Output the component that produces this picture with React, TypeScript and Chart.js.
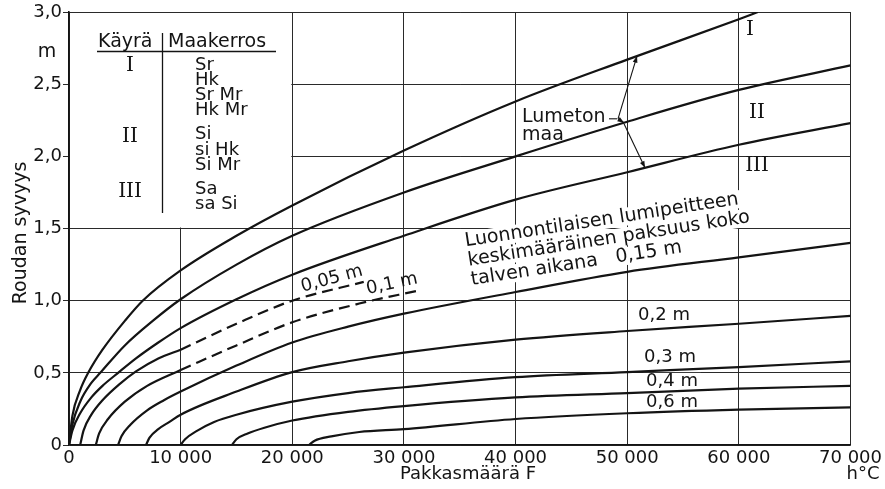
import React, { useEffect, useRef } from 'react';
import { Chart, registerables } from 'chart.js';
Chart.register(...registerables);

// ---- axes ----
const xTicks = [0, 10000, 20000, 30000, 40000, 50000, 60000, 70000];
const xTickLabels = ['0', '10 000', '20 000', '30 000', '40 000', '50 000', '60 000', '70 000'];
const yTicks = [0, 0.5, 1, 1.5, 2, 2.5, 3];
const yTickLabels = ['0', '0,5', '1,0', '1,5', '2,0', '2,5', '3,0'];

// ---- snow-free ground, curves I, II, III ----
const xI = [0, 300, 1000, 1720, 3000, 5000, 6600, 10000, 15000, 20000, 30000, 40000, 50000, 60000, 61700];
const yI = [0, 0.2, 0.38, 0.5, 0.66, 0.86, 1.0, 1.21, 1.45, 1.66, 2.04, 2.38, 2.67, 2.95, 3.0];
const xII = [0, 300, 1000, 2000, 2800, 5000, 7500, 10000, 15000, 20000, 30000, 40000, 50000, 60000, 70000];
const yII = [0, 0.14, 0.3, 0.43, 0.5, 0.69, 0.86, 1.01, 1.25, 1.45, 1.75, 2.0, 2.24, 2.46, 2.63];
const xIII = [0, 300, 1000, 2000, 3000, 4400, 6000, 8000, 10000, 15000, 20000, 30000, 40000, 50000, 60000, 70000];
const yIII = [0, 0.1, 0.22, 0.33, 0.41, 0.5, 0.6, 0.71, 0.81, 1.01, 1.18, 1.45, 1.7, 1.89, 2.08, 2.23];

// ---- snow cover 0.05 m and 0.1 m (solid start, dashed continuation) ----
const x005 = [1000, 1300, 2000, 3000, 4500, 6000, 8000, 10000];
const y005 = [0, 0.1, 0.21, 0.31, 0.42, 0.51, 0.6, 0.66];
const x005d = [10000, 15000, 20000, 26400];
const y005d = [0.66, 0.84, 1.0, 1.13];
const x01 = [2400, 2700, 3500, 5000, 7000, 10000];
const y01 = [0, 0.08, 0.18, 0.3, 0.41, 0.52];
const x01d = [10000, 15000, 20000, 26000, 31300];
const y01d = [0.52, 0.69, 0.85, 0.98, 1.07];

// ---- snow cover 0.15 ... 0.6 m ----
const x015 = [4400, 4700, 5500, 7000, 8500, 10000, 15000, 20000, 25000, 30000, 40000, 50000, 60000, 70000];
const y015 = [0, 0.06, 0.14, 0.24, 0.31, 0.37, 0.55, 0.71, 0.82, 0.91, 1.06, 1.2, 1.3, 1.4];
const x02 = [6900, 7200, 8000, 9000, 10000, 15000, 20000, 25000, 30000, 40000, 50000, 60000, 70000];
const y02 = [0, 0.05, 0.11, 0.16, 0.21, 0.37, 0.505, 0.58, 0.64, 0.73, 0.79, 0.84, 0.895];
const x03 = [10000, 10400, 11500, 13000, 15000, 20000, 25000, 30000, 40000, 50000, 60000, 70000];
const y03 = [0, 0.04, 0.1, 0.16, 0.21, 0.3, 0.36, 0.4, 0.47, 0.505, 0.54, 0.58];
const x04 = [14600, 15000, 16000, 17500, 20000, 25000, 30000, 40000, 50000, 60000, 70000];
const y04 = [0, 0.04, 0.08, 0.12, 0.17, 0.23, 0.27, 0.33, 0.36, 0.39, 0.41];
const x06 = [21500, 22000, 23500, 26000, 30000, 40000, 50000, 60000, 70000];
const y06 = [0, 0.03, 0.06, 0.09, 0.11, 0.18, 0.22, 0.245, 0.26];

const pts = (xs: number[], ys: number[]) => xs.map((x, i) => ({ x, y: ys[i] }));
function interp(xs: number[], ys: number[], v: number) {
  for (let i = 1; i < xs.length; i++) {
    if (v <= xs[i]) {
      const t = (v - xs[i - 1]) / (xs[i] - xs[i - 1]);
      return ys[i - 1] + t * (ys[i] - ys[i - 1]);
    }
  }
  return ys[ys.length - 1];
}

const SANS = '"DejaVu Sans", sans-serif';
const SERIF = '"DejaVu Serif", serif';
const INK = '#141414';

function curve(data: { x: number; y: number }[], dashed = false) {
  return {
    data,
    borderColor: INK,
    borderWidth: 2.2,
    pointRadius: 0,
    fill: false,
    cubicInterpolationMode: 'monotone' as const,
    borderDash: dashed ? [11, 6] : [],
  };
}

function text(ctx: CanvasRenderingContext2D, s: string, x: number, y: number, size: number, align: CanvasTextAlign = 'left', font = SANS) {
  ctx.font = `${size}px ${font}`;
  ctx.textAlign = align;
  ctx.textBaseline = 'middle';
  ctx.fillStyle = INK;
  ctx.fillText(s, x, y);
}

function arrow(ctx: CanvasRenderingContext2D, x1: number, y1: number, x2: number, y2: number) {
  ctx.beginPath();
  ctx.moveTo(x1, y1);
  ctx.lineTo(x2, y2);
  ctx.stroke();
  const a = Math.atan2(y2 - y1, x2 - x1);
  const L = 7, W = 0.35;
  ctx.beginPath();
  ctx.moveTo(x2, y2);
  ctx.lineTo(x2 - L * Math.cos(a - W), y2 - L * Math.sin(a - W));
  ctx.lineTo(x2 - L * Math.cos(a + W), y2 - L * Math.sin(a + W));
  ctx.closePath();
  ctx.fill();
}

// label anchors: x in pixels, vertical position in axis units
const smallLabels = [
  { s: '0,2 m', x: 664, v: 0.896 },
  { s: '0,3 m', x: 670, v: 0.604 },
  { s: '0,4 m', x: 672, v: 0.444 },
  { s: '0,6 m', x: 672, v: 0.295 },
];
const longLines = ['Luonnontilaisen lumipeitteen', 'keskimääräinen paksuus koko', 'talven aikana   0,15 m'];
const LONG = { x: 465, v: 1.41, ang: -8.8, dy: 19.5, size: 19 };

const decor = {
  id: 'decor',
  beforeDatasetsDraw(chart: any) {
    const { ctx, scales } = chart;
    const x = scales.x, y = scales.y;
    ctx.save();
    ctx.fillStyle = '#fff';
    const l = x.getPixelForValue(0) + 1, r = x.getPixelForValue(20000) - 1;
    const t = y.getPixelForValue(3) + 1, b = y.getPixelForValue(1.5) - 1;
    ctx.fillRect(l, t, r - l, b - t);
    ctx.font = `18px ${SANS}`;
    for (const lb of smallLabels) {
      const w = ctx.measureText(lb.s).width;
      ctx.fillRect(lb.x - w / 2 - 3, y.getPixelForValue(lb.v) - 8, w + 6, 16);
    }
    ctx.translate(LONG.x, y.getPixelForValue(LONG.v));
    ctx.rotate((LONG.ang * Math.PI) / 180);
    ctx.font = `${LONG.size}px ${SANS}`;
    longLines.forEach((s, i) => {
      const w = ctx.measureText(s).width;
      ctx.fillRect(-4, i * LONG.dy - 9, w + 8, 18);
    });
    ctx.restore();
  },
  afterDatasetsDraw(chart: any) {
    const { ctx, scales } = chart;
    const x = scales.x, y = scales.y;
    const py = (v: number) => y.getPixelForValue(v);
    const onCurve = (xs: number[], ys: number[], px: number) => py(interp(xs, ys, x.getValueForPixel(px)));
    ctx.save();
    // unit and axis titles
    text(ctx, 'm', 47, 52, 19, 'center');
    ctx.save();
    ctx.translate(21, 233);
    ctx.rotate(-Math.PI / 2);
    text(ctx, 'Roudan syvyys', 0, 0, 19, 'center');
    ctx.restore();
    text(ctx, 'Pakkasmäärä F', 468, 474, 18, 'center');
    text(ctx, 'h°C', 863, 474, 18, 'center');

    // legend table
    text(ctx, 'Käyrä', 98, 42, 19);
    text(ctx, 'Maakerros', 168, 42, 19);
    ctx.strokeStyle = INK;
    ctx.lineWidth = 1.3;
    ctx.beginPath();
    ctx.moveTo(97, 51.5); ctx.lineTo(276, 51.5);
    ctx.moveTo(162.5, 33); ctx.lineTo(162.5, 213);
    ctx.stroke();
    text(ctx, 'I', 130, 66, 20, 'center', SERIF);
    text(ctx, 'II', 130, 137, 20, 'center', SERIF);
    text(ctx, 'III', 130, 192, 20, 'center', SERIF);
    const soils = [['Sr', 65], ['Hk', 80], ['Sr Mr', 95], ['Hk Mr', 110], ['Si', 134], ['si Hk', 150], ['Si Mr', 165], ['Sa', 189], ['sa Si', 204]] as const;
    for (const [s, yy] of soils) text(ctx, s, 195, yy, 18);

    // curve numerals
    text(ctx, 'I', 750, py(2.88), 20, 'center', SERIF);
    text(ctx, 'II', 757, py(2.3), 20, 'center', SERIF);
    text(ctx, 'III', 757, py(1.934), 20, 'center', SERIF);

    // snow-free label with arrows
    text(ctx, 'Lumeton', 522, py(2.27), 19);
    text(ctx, 'maa', 522, py(2.15), 19);
    ctx.fillStyle = INK;
    ctx.lineWidth = 1.1;
    const jy = py(2.26);
    ctx.beginPath();
    ctx.moveTo(609, jy); ctx.lineTo(617, jy);
    ctx.stroke();
    const tII = onCurve(xII, yII, 624);
    arrow(ctx, 618, jy, 637, onCurve(xI, yI, 637));
    arrow(ctx, 618, jy, 624, tII);
    arrow(ctx, 624, tII + 1, 645, onCurve(xIII, yIII, 645));

    // long snow label
    ctx.save();
    ctx.translate(LONG.x, py(LONG.v));
    ctx.rotate((LONG.ang * Math.PI) / 180);
    longLines.forEach((s, i) => text(ctx, s, 0, i * LONG.dy, LONG.size));
    ctx.restore();

    // dashed curve labels
    ctx.save();
    ctx.translate(332, 279);
    ctx.rotate((-15 * Math.PI) / 180);
    text(ctx, '0,05 m', 0, 0, 18, 'center');
    ctx.restore();
    ctx.save();
    ctx.translate(392, 284);
    ctx.rotate((-12 * Math.PI) / 180);
    text(ctx, '0,1 m', 0, 0, 18, 'center');
    ctx.restore();

    for (const lb of smallLabels) text(ctx, lb.s, lb.x, py(lb.v), 18, 'center');
    ctx.restore();
  },
};

export default function App() {
  const ref = useRef<HTMLCanvasElement>(null);
  useEffect(() => {
    document.body.style.margin = '0';
    const chart = new Chart(ref.current as HTMLCanvasElement, {
      type: 'line',
      data: {
        datasets: [
          curve(pts(xI, yI)),
          curve(pts(xII, yII)),
          curve(pts(xIII, yIII)),
          curve(pts(x005, y005)),
          curve(pts(x005d, y005d), true),
          curve(pts(x01, y01)),
          curve(pts(x01d, y01d), true),
          curve(pts(x015, y015)),
          curve(pts(x02, y02)),
          curve(pts(x03, y03)),
          curve(pts(x04, y04)),
          curve(pts(x06, y06)),
        ] as any,
      },
      options: {
        responsive: false,
        animation: false,
        events: [],
        layout: { padding: { left: 0, top: 12, right: 32, bottom: 0 } },
        plugins: { legend: { display: false }, tooltip: { enabled: false } },
        scales: {
          x: {
            type: 'linear',
            min: 0,
            max: 70000,
            afterFit: (s: any) => { s.height = 44; },
            afterBuildTicks: (s: any) => { s.ticks = xTicks.map((v) => ({ value: v })); },
            ticks: {
              autoSkip: false,
              maxRotation: 0,
              padding: 3,
              color: INK,
              font: { family: SANS, size: 18 },
              callback: (v: any) => xTickLabels[xTicks.indexOf(Number(v))] ?? '',
            },
            grid: { color: '#2a2a2a', lineWidth: 1, drawTicks: false },
            border: { color: INK, width: 1.6 },
          },
          y: {
            type: 'linear',
            min: 0,
            max: 3,
            afterFit: (s: any) => { s.width = 69; },
            afterBuildTicks: (s: any) => { s.ticks = yTicks.map((v) => ({ value: v })); },
            ticks: {
              padding: 1,
              color: INK,
              font: { family: SANS, size: 18 },
              callback: (v: any) => yTickLabels[yTicks.indexOf(Number(v))] ?? '',
            },
            grid: { color: '#2a2a2a', lineWidth: 1, tickLength: 6 },
            border: { color: INK, width: 1.6 },
          },
        },
      },
      plugins: [decor],
    } as any);
    return () => chart.destroy();
  }, []);
  return (
    <div style={{ position: 'absolute', left: 0, top: 0, width: 885, height: 489, background: '#fff' }}>
      <canvas ref={ref} width={885} height={489} style={{ display: 'block', width: 885, height: 489 }} />
    </div>
  );
}
